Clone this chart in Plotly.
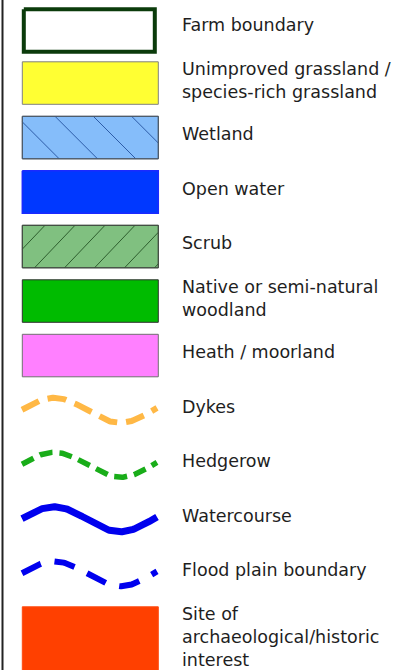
import numpy as np
import plotly.graph_objects as go

# ---- legend content (data) ----
labels = [
    "Farm boundary",
    "Unimproved grassland /<br>species-rich grassland",
    "Wetland",
    "Open water",
    "Scrub",
    "Native or semi-natural<br>woodland",
    "Heath / moorland",
    "Dykes",
    "Hedgerow",
    "Watercourse",
    "Flood plain boundary",
    "Site of<br>archaeological/historic<br>interest",
]
symbol_kinds = ["outline", "box", "hatch_back", "box", "hatch_fwd", "box", "box",
                "wave", "wave", "wave", "wave", "box"]

# ---- styles ----
fill_colors = ["#ffffff", "#ffff33", "#85bdfa", "#0038ff", "#80c080", "#00bb00", "#ff80ff",
               None, None, None, None, "#ff4000"]
edge_colors = ["#0b3b0b", "#808080", "#4a5866", "#1a2aff", "#404a40", "#303030", "#707070",
               "#ffb845", "#19ad19", "#0000ee", "#0000ee", "#ff4a10"]
edge_widths = [4, 1, 1, 1.5, 1, 1, 1, 6, 5.5, 7, 6, 1]
dash_styles = [None] * 7 + ["19px,9px", "13px,7px", "solid", "21px,14px", None]
hatch_colors = {"hatch_back": "#2d5ca8", "hatch_fwd": "#2e5e2e"}

W, H = 414, 670
ROW0, PITCH = 7.3, 54.5
BX0, BX1, BH = 22.3, 158.3, 42.5
TEXT_X = 180.5
FONT = dict(family="DejaVu Sans", size=17.5, color="#1e1e1e")

fig = go.Figure()


def add_poly(xs, ys, fill, line_color, line_width):
    fig.add_trace(go.Scatter(
        x=xs, y=ys, mode="lines", fill="toself", fillcolor=fill,
        line=dict(color=line_color, width=line_width),
        hoverinfo="skip", showlegend=False))


def hatch(top, bottom, x_start, spacing, direction, slope, color):
    h = bottom - top
    xs, ys = [], []
    k_min = int(np.floor((BX0 - x_start - h / slope) / spacing)) - 1
    k_max = int(np.ceil((BX1 - x_start + h / slope) / spacing)) + 1
    for k in range(k_min, k_max + 1):
        xt = x_start + k * spacing
        u_lo, u_hi = 0.0, h / slope
        if direction > 0:
            u_lo = max(u_lo, BX0 - xt)
            u_hi = min(u_hi, BX1 - xt)
        else:
            u_lo = max(u_lo, xt - BX1)
            u_hi = min(u_hi, xt - BX0)
        if u_lo < u_hi:
            xs += [xt + direction * u_lo, xt + direction * u_hi, None]
            ys += [top + slope * u_lo, top + slope * u_hi, None]
    fig.add_trace(go.Scatter(x=xs, y=ys, mode="lines",
                             line=dict(color=color, width=1),
                             hoverinfo="skip", showlegend=False))


for i, (lab, kind) in enumerate(zip(labels, symbol_kinds)):
    top = ROW0 + PITCH * i
    bottom = top + BH
    if kind == "outline":
        hw = edge_widths[i] / 2
        x0, x1, y0, y1 = BX0 + hw - 0.5, BX1 - hw - 1.5, top + hw, bottom + 2
        add_poly([x0, x1, x1, x0, x0], [y0, y0, y1, y1, y0],
                 fill_colors[i], edge_colors[i], edge_widths[i])
    elif kind in ("box", "hatch_back", "hatch_fwd"):
        b = bottom if i < len(labels) - 1 else H + 5
        add_poly([BX0, BX1, BX1, BX0, BX0], [top, top, b, b, top],
                 fill_colors[i], edge_colors[i], edge_widths[i])
        if kind == "hatch_back":
            hatch(top, bottom, 16.7, 38.3, +1, 1.0, hatch_colors[kind])
        elif kind == "hatch_fwd":
            hatch(top, bottom, 45.0, 30.0, -1, 1.05, hatch_colors[kind])
        if kind != "box":
            # redraw border on top of hatch lines
            fig.add_trace(go.Scatter(
                x=[BX0, BX1, BX1, BX0, BX0], y=[top, top, bottom, bottom, top],
                mode="lines", line=dict(color=edge_colors[i], width=1),
                hoverinfo="skip", showlegend=False))
    elif kind == "wave":
        c = top + 21.5
        xw = np.linspace(22, 157, 160)
        yw = c - 12.5 * np.sin(2 * np.pi * (xw - 21) / 132)
        fig.add_trace(go.Scatter(
            x=xw, y=yw, mode="lines",
            line=dict(color=edge_colors[i], width=edge_widths[i], dash=dash_styles[i]),
            hoverinfo="skip", showlegend=False))

    n_lines = lab.count("<br>") + 1
    y_text = top + (11 if n_lines == 1 else 0.5) - 4
    fig.add_annotation(x=TEXT_X, y=y_text, xref="x", yref="y", text=lab,
                       showarrow=False, xanchor="left", yanchor="top", align="left",
                       font=FONT, borderpad=0)

# left frame line
fig.add_trace(go.Scatter(x=[2.5, 2.5], y=[-5, H + 5], mode="lines",
                         line=dict(color="#222222", width=2),
                         hoverinfo="skip", showlegend=False))

fig.update_layout(
    width=W, height=H, margin=dict(l=0, r=0, t=0, b=0),
    paper_bgcolor="white", plot_bgcolor="white",
    xaxis=dict(range=[0, W], visible=False, fixedrange=True),
    yaxis=dict(range=[H, 0], visible=False, fixedrange=True),
)

fig.write_html("out.html", config={"displayModeBar": False},
               post_script="document.body.style.margin='0';document.body.style.overflow='hidden';")
